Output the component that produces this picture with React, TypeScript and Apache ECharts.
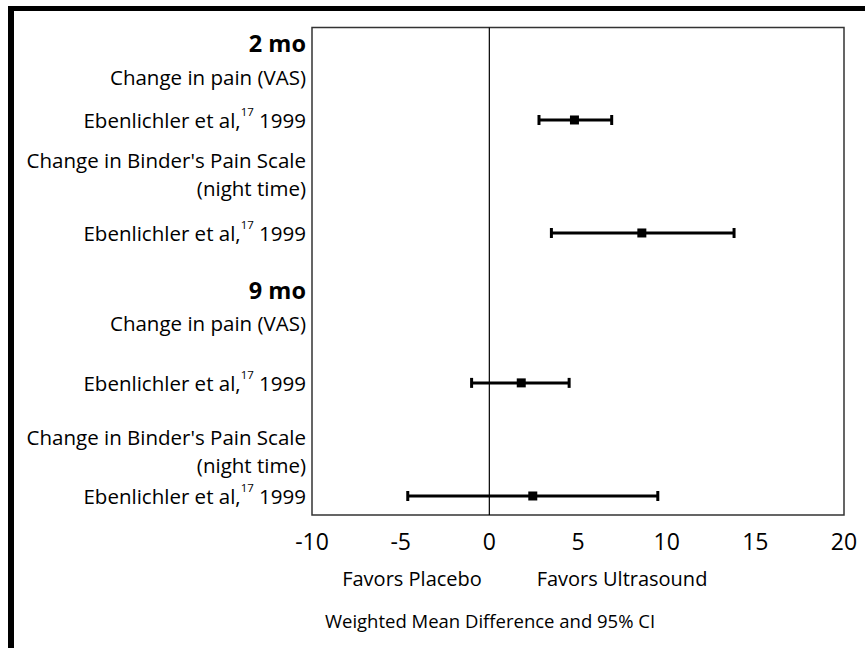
import React, { useEffect, useRef } from "react";
import * as echarts from "echarts";

// Row labels (left side) and their vertical positions (0 = top, 100 = bottom of plot)
const labelTexts = [
  "{b|2 mo}",
  "Change in pain (VAS)",
  "Ebenlichler et al,{sup|17} 1999",
  "Change in Binder's Pain Scale\n(night time)",
  "Ebenlichler et al,{sup|17} 1999",
  "{b|9 mo}",
  "Change in pain (VAS)",
  "Ebenlichler et al,{sup|17} 1999",
  "Change in Binder's Pain Scale\n(night time)",
  "Ebenlichler et al,{sup|17} 1999",
];
const labelRows = [3.2, 10.15, 18.97, 30.05, 42.15, 53.85, 60.6, 72.9, 86.97, 96.1];

// Study estimates: weighted mean difference and 95% CI
const studyRows = [18.97, 42.15, 72.9, 96.1];
const means = [4.8, 8.6, 1.8, 2.45];
const lows = [2.8, 3.5, -1.0, -4.6];
const highs = [6.9, 13.8, 4.5, 9.5];

const xTicks = [-10, -5, 0, 5, 10, 15, 20];

const FONT = "'Open Sans', 'Noto Sans', sans-serif";

export default function App() {
  const ref = useRef<HTMLDivElement>(null);
  useEffect(() => {
    document.body.style.margin = "0";
    const chart = echarts.init(ref.current!, null, { renderer: "svg" });
    const studyData = studyRows.map((y, i) => [lows[i], highs[i], means[i], y]);
    const labelData = labelRows.map((y, i) => ({ value: [xTicks[0], y], name: labelTexts[i] }));
    chart.setOption({
      animation: false,
      backgroundColor: "#fff",
      textStyle: { fontFamily: FONT },
      grid: {
        left: 312,
        top: 27.5,
        right: 21,
        bottom: 133,
        show: true,
        borderColor: "#333",
        borderWidth: 1.5,
        containLabel: false,
      },
      xAxis: {
        type: "value",
        min: xTicks[0],
        max: xTicks[xTicks.length - 1],
        interval: 5,
        axisLine: { show: false },
        axisTick: { show: false },
        splitLine: { show: false },
        axisLabel: {
          color: "#000",
          fontSize: 23,
          fontFamily: FONT,
          margin: 14,
          formatter: (v: number) => String(v),
        },
      },
      yAxis: {
        type: "value",
        min: 0,
        max: 100,
        inverse: true,
        show: false,
      },
      series: [
        {
          type: "line",
          data: [
            [0, 0],
            [0, 100],
          ],
          symbol: "none",
          lineStyle: { color: "#000", width: 1.2 },
          silent: true,
        },
        {
          type: "scatter",
          symbolSize: 0,
          clip: false,
          silent: true,
          itemStyle: { opacity: 1 },
          emphasis: { disabled: true },
          data: labelData,
          label: {
            show: true,
            position: "left",
            distance: 6,
            align: "right",
            color: "#000",
            opacity: 1,
            fontSize: 20.5,
            lineHeight: 28,
            fontFamily: FONT,
            formatter: (p: any) => p.name,
            rich: {
              b: { fontSize: 23.5, fontWeight: "bold", color: "#000", fontFamily: FONT },
              sup: {
                fontSize: 11.5,
                verticalAlign: "top",
                color: "#000",
                fontFamily: FONT,
                padding: [0, 0, 8, 0],
              },
            },
          },
        },
        {
          type: "custom",
          clip: false,
          data: studyData,
          encode: { x: [0, 1, 2], y: 3 },
          renderItem: (params: any, api: any) => {
            const lo = api.value(0);
            const hi = api.value(1);
            const m = api.value(2);
            const y = api.value(3);
            const p1 = api.coord([lo, y]);
            const p2 = api.coord([hi, y]);
            const pm = api.coord([m, y]);
            const cap = 5;
            const sq = 9;
            const st = { stroke: "#000", lineWidth: 3 };
            return {
              type: "group",
              children: [
                { type: "line", shape: { x1: p1[0], y1: p1[1], x2: p2[0], y2: p2[1] }, style: st },
                { type: "line", shape: { x1: p1[0], y1: p1[1] - cap, x2: p1[0], y2: p1[1] + cap }, style: st },
                { type: "line", shape: { x1: p2[0], y1: p2[1] - cap, x2: p2[0], y2: p2[1] + cap }, style: st },
                {
                  type: "rect",
                  shape: { x: pm[0] - sq / 2, y: pm[1] - sq / 2, width: sq, height: sq },
                  style: { fill: "#000" },
                },
              ],
            };
          },
        },
      ],
      graphic: [
        { type: "rect", shape: { x: 8, y: 6, width: 6, height: 642 }, style: { fill: "#000" } },
        { type: "rect", shape: { x: 8, y: 6, width: 857, height: 5 }, style: { fill: "#000" } },
        {
          type: "text",
          x: 412,
          y: 578,
          style: { text: "Favors Placebo", fontSize: 20, fontFamily: FONT, fill: "#000", align: "center", verticalAlign: "middle" },
        },
        {
          type: "text",
          x: 622,
          y: 578,
          style: { text: "Favors Ultrasound", fontSize: 20, fontFamily: FONT, fill: "#000", align: "center", verticalAlign: "middle" },
        },
        {
          type: "text",
          x: 490,
          y: 620,
          style: {
            text: "Weighted Mean Difference and 95% CI",
            fontSize: 18.5,
            fontFamily: FONT,
            fill: "#000",
            align: "center",
            verticalAlign: "middle",
          },
        },
      ],
    });
    return () => chart.dispose();
  }, []);
  return <div ref={ref} style={{ width: 865, height: 648 }} />;
}
